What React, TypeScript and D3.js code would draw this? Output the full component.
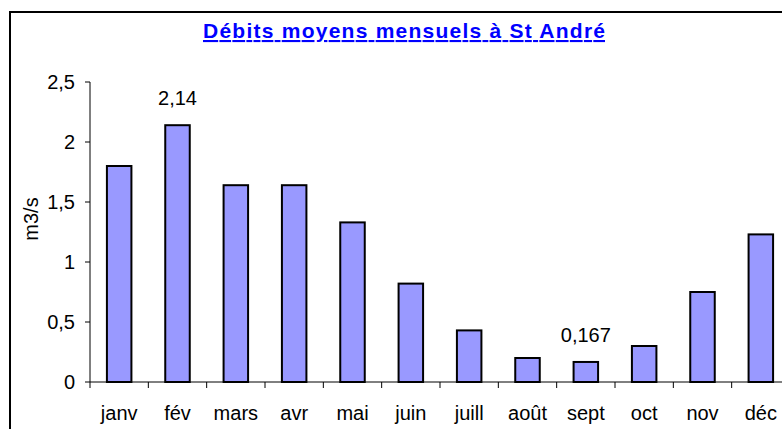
import React from 'react'
import * as d3 from 'd3'

const months = ['janv', 'fév', 'mars', 'avr', 'mai', 'juin', 'juill', 'août', 'sept', 'oct', 'nov', 'déc']
const flows = [1.8, 2.14, 1.64, 1.64, 1.33, 0.82, 0.43, 0.2, 0.167, 0.3, 0.75, 1.23]
const yTicks = [0, 0.5, 1, 1.5, 2, 2.5]
const shownLabels = ['fév', 'sept']

const width = 782
const height = 429
const plot = { left: 90, top: 82, bottom: 382, right: 790 }
const font = 'Liberation Sans, Arial, sans-serif'

const fmt = (v: number) => String(v).replace('.', ',')

export default function App() {
  const x = d3.scaleBand<string>()
      .domain(months)
      .range([plot.left, plot.right])
      .paddingInner(0)
      .paddingOuter(0)

  const y = d3.scaleLinear()
      .domain([0, 2.5])
      .range([plot.bottom, plot.top])

  const barW = x.bandwidth() * 0.42
  const mid = (m: string) => (x(m) ?? 0) + x.bandwidth() / 2

  return (
      <div style={{ position: 'fixed', left: 0, top: 0 }}>
        <svg width={width} height={height} style={{ display: 'block', background: 'white' }} fontFamily={font}>
          {/* chart frame, cropped at right and bottom */}
          <rect x={10} y={12} width={800} height={440} fill="white" stroke="black" strokeWidth={2} />

          <text
              x={404} y={38}
              textAnchor="middle"
              style={{ fontSize: '21px', fontWeight: 'bold', textDecoration: 'underline' }}
              fill="#0000FF"
              textLength={402}
              lengthAdjust="spacing"
          >
            Débits moyens mensuels à St André
          </text>

          {/* y axis */}
          <line x1={plot.left} x2={plot.left} y1={y(2.5)} y2={y(0)} stroke="black" />
          {yTicks.map(t => (
              <g key={t}>
                <line x1={plot.left - 5} x2={plot.left} y1={y(t)} y2={y(t)} stroke="black" />
                <text x={75} y={y(t)} dy={7} textAnchor="end" style={{ fontSize: '20px' }} fill="black">{fmt(t)}</text>
              </g>
          ))}
          <text
              transform={`translate(38, 219) rotate(-90)`}
              textAnchor="middle"
              style={{ fontSize: '20px' }}
              fill="black"
          >
            m3/s
          </text>

          {/* bars */}
          {months.map((m, i) => (
              <rect
                  key={m}
                  x={mid(m) - barW / 2}
                  y={y(flows[i])}
                  width={barW}
                  height={y(0) - y(flows[i])}
                  fill="#9999FF"
                  stroke="black"
                  strokeWidth={2}
              />
          ))}

          {/* value labels */}
          {months.map((m, i) => shownLabels.includes(m) ? (
              <text
                  key={'l' + m}
                  x={mid(m)}
                  y={y(flows[i]) - 20}
                  textAnchor="middle"
                  style={{ fontSize: '20px' }}
                  fill="black"
              >
                {fmt(flows[i])}
              </text>
          ) : null)}

          {/* x axis */}
          <line x1={plot.left} x2={plot.right} y1={y(0)} y2={y(0)} stroke="black" />
          {months.map(m => (
              <line key={'t' + m} x1={x(m) ?? 0} x2={x(m) ?? 0} y1={y(0)} y2={y(0) + 6} stroke="black" />
          ))}
          {months.map(m => (
              <text
                  key={'x' + m}
                  x={mid(m)}
                  y={420}
                  textAnchor="middle"
                  style={{ fontSize: '20px' }}
                  fill="black"
              >
                {m}
              </text>
          ))}
        </svg>
      </div>
  )
}
